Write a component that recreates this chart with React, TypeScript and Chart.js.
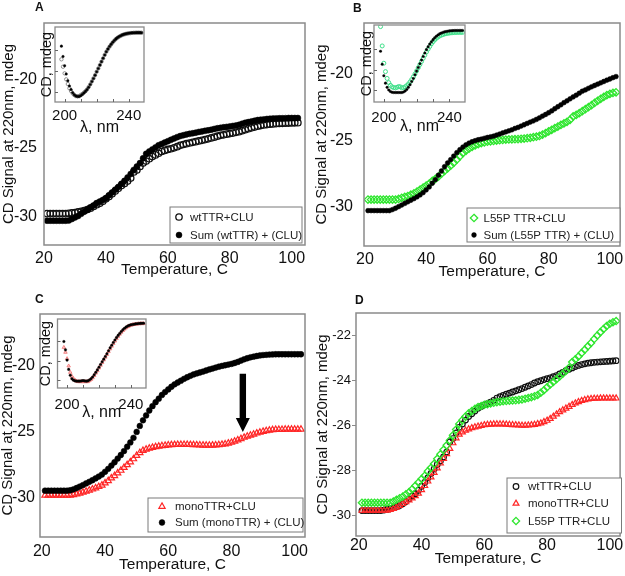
import React, { useEffect, useRef } from "react";
import { Chart, registerables } from "chart.js";

Chart.register(...registerables);

const FONT = "'Liberation Sans', Arial, Helvetica, sans-serif";
Chart.defaults.font.family = FONT;

// ---------- DATA ----------
const temps = [
  21, 22, 23, 24, 25, 26, 27, 28, 29, 30,
  31, 32, 33, 34, 35, 36, 37, 38, 39, 40,
  41, 42, 43, 44, 45, 46, 47, 48, 49, 50,
  51, 52, 53, 54, 55, 56, 57, 58, 59, 60,
  61, 62, 63, 64, 65, 66, 67, 68, 69, 70,
  71, 72, 73, 74, 75, 76, 77, 78, 79, 80,
  81, 82, 83, 84, 85, 86, 87, 88, 89, 90,
  91, 92, 93, 94, 95, 96, 97, 98, 99, 100,
  101, 102,
];

const wtCLU = [
  -29.8, -29.8, -29.8, -29.8, -29.8, -29.8, -29.8, -29.78, -29.75, -29.72,
  -29.68, -29.63, -29.58, -29.5, -29.4, -29.28, -29.15, -29.05, -28.9, -28.72,
  -28.55, -28.35, -28.15, -27.95, -27.75, -27.6, -27.42, -27.2, -26.75, -26.6,
  -26.35, -26.1, -25.95, -25.78, -25.62, -25.5, -25.38, -25.25, -25.17, -25.1,
  -25.05, -24.98, -24.9, -24.8, -24.74, -24.68, -24.63, -24.58, -24.53, -24.48,
  -24.43, -24.38, -24.32, -24.26, -24.2, -24.13, -24.07, -24.03, -23.98, -23.94,
  -23.9, -23.85, -23.8, -23.73, -23.66, -23.58, -23.52, -23.46, -23.4, -23.35,
  -23.31, -23.28, -23.25, -23.23, -23.21, -23.2, -23.19, -23.18, -23.17, -23.16,
  -23.15, -23.14,
];

const wtSum = [
  -30.32, -30.32, -30.32, -30.32, -30.32, -30.32, -30.32, -30.3, -30.2, -30.08,
  -29.98, -29.82, -29.66, -29.52, -29.36, -29.2, -29.03, -28.92, -28.8, -28.68,
  -28.45, -28.25, -28.05, -27.85, -27.62, -27.4, -27.15, -26.9, -26.6, -26.35,
  -26.1, -25.75, -25.42, -25.25, -25.1, -24.95, -24.8, -24.7, -24.6, -24.5,
  -24.4, -24.3, -24.2, -24.12, -24.06, -24.0, -23.96, -23.92, -23.87, -23.82,
  -23.78, -23.74, -23.7, -23.66, -23.6, -23.55, -23.52, -23.48, -23.45, -23.42,
  -23.38, -23.35, -23.3, -23.22, -23.15, -23.1, -23.05, -23.0, -22.95, -22.92,
  -22.9, -22.87, -22.85, -22.84, -22.83, -22.82, -22.82, -22.81, -22.8, -22.8,
  -22.8, -22.8,
];

const l55pCLU = [
  -29.45, -29.45, -29.45, -29.45, -29.45, -29.45, -29.45, -29.45, -29.45, -29.45,
  -29.4, -29.32, -29.25, -29.18, -29.08, -28.98, -28.85, -28.7, -28.55, -28.4,
  -28.25, -28.05, -27.9, -27.72, -27.5, -27.3, -27.1, -26.9, -26.68, -26.45,
  -26.2, -25.95, -25.78, -25.62, -25.48, -25.38, -25.28, -25.2, -25.15, -25.1,
  -25.07, -25.04, -25.01, -24.98, -24.96, -24.94, -24.93, -24.92, -24.91, -24.9,
  -24.88, -24.86, -24.83, -24.8, -24.76, -24.72, -24.66, -24.56, -24.45, -24.32,
  -24.2, -24.08, -23.96, -23.84, -23.72, -23.6, -23.45, -23.2, -23.08, -22.95,
  -22.8, -22.65, -22.5, -22.35, -22.18, -22.02, -21.87, -21.73, -21.6, -21.5,
  -21.43, -21.38,
];

const l55pSum = [
  -30.28, -30.28, -30.28, -30.28, -30.28, -30.28, -30.28, -30.28, -30.2, -30.1,
  -29.98, -29.86, -29.74, -29.62, -29.5, -29.38, -29.25, -29.1, -28.93, -28.72,
  -28.5, -28.22, -27.95, -27.62, -27.3, -26.98, -26.7, -26.45, -26.18, -25.92,
  -25.7, -25.5, -25.33, -25.2, -25.1, -25.02, -24.95, -24.9, -24.84, -24.78,
  -24.73, -24.68, -24.6, -24.52, -24.44, -24.36, -24.28, -24.2, -24.1, -24.02,
  -23.92, -23.82, -23.72, -23.62, -23.53, -23.42, -23.3, -23.17, -23.05, -22.92,
  -22.78, -22.62, -22.47, -22.32, -22.16, -22.02, -21.87, -21.73, -21.6, -21.45,
  -21.3, -21.2, -21.08, -20.97, -20.87, -20.77, -20.67, -20.57, -20.47, -20.38,
  -20.28, -20.2,
];

const monoCLU = [
  -29.8, -29.8, -29.8, -29.8, -29.8, -29.8, -29.8, -29.8, -29.8, -29.76,
  -29.72, -29.66, -29.58, -29.5, -29.42, -29.34, -29.25, -29.15, -29.04, -28.88,
  -28.7, -28.5, -28.32, -28.12, -27.92, -27.7, -27.5, -27.28, -27.05, -26.8,
  -26.58, -26.42, -26.32, -26.24, -26.18, -26.13, -26.09, -26.06, -26.03, -26.0,
  -25.98, -25.97, -25.96, -25.96, -25.96, -25.96, -25.97, -25.98, -25.99, -26.0,
  -26.01, -26.02, -26.02, -26.01, -26.0, -25.98, -25.95, -25.92, -25.86, -25.8,
  -25.72, -25.62, -25.52, -25.42, -25.34, -25.26, -25.18, -25.1, -25.03, -24.97,
  -24.92, -24.88, -24.85, -24.83, -24.82, -24.82, -24.81, -24.81, -24.81, -24.81,
  -24.81, -24.81,
];

const monoSum = [
  -29.45, -29.45, -29.45, -29.45, -29.45, -29.45, -29.45, -29.45, -29.42, -29.35,
  -29.25, -29.14, -29.03, -28.9, -28.78, -28.66, -28.52, -28.38, -28.23, -28.02,
  -27.8, -27.55, -27.3, -27.02, -26.75, -26.45, -26.12, -25.8, -25.45, -25.0,
  -24.55, -24.12, -23.75, -23.38, -23.05, -22.75, -22.48, -22.2, -21.98, -21.78,
  -21.58, -21.4, -21.26, -21.12, -20.98, -20.86, -20.75, -20.65, -20.57, -20.5,
  -20.43, -20.35, -20.27, -20.2, -20.13, -20.06, -20.0, -19.95, -19.9, -19.85,
  -19.78, -19.7, -19.6, -19.5, -19.42, -19.35, -19.3, -19.25, -19.21, -19.18,
  -19.16, -19.14, -19.13, -19.12, -19.12, -19.12, -19.12, -19.12, -19.12, -19.12,
  -19.12, -19.12,
];

// inset spectra (wavelength, nm)
const wavelengths = [
  198, 199, 200, 201, 202, 203, 204, 205, 206, 207,
  208, 209, 210, 211, 212, 213, 214, 215, 216, 217,
  218, 219, 220, 221, 222, 223, 224, 225, 226, 227,
  228, 229, 230, 231, 232, 233, 234, 235, 236, 237,
  238, 239, 240, 241, 242, 243, 244, 245, 246, 247,
  248,
];

const specWtCLU = [
  -5.75, -7.18, -8.46, -9.62, -10.52, -11.36, -11.88, -12.33, -12.65, -12.85,
  -12.9, -12.85, -12.65, -12.45, -12.2, -11.9, -11.55, -11.1, -10.58, -10.0,
  -9.42, -8.8, -8.14, -7.5, -6.85, -6.2, -5.56, -4.9, -4.28, -3.78,
  -3.31, -2.88, -2.47, -2.13, -1.82, -1.58, -1.38, -1.2, -1.05, -0.94,
  -0.85, -0.78, -0.72, -0.68, -0.65, -0.63, -0.61, -0.6, -0.6, -0.6,
  -0.62,
];
const specWtSum = [
  -3.2, -5.2, -7.0, -8.6, -9.9, -10.9, -11.6, -12.2, -12.6, -12.85,
  -12.95, -12.95, -12.8, -12.55, -12.25, -11.95, -11.6, -11.15, -10.62, -10.05,
  -9.45, -8.82, -8.16, -7.52, -6.86, -6.2, -5.55, -4.9, -4.28, -3.76,
  -3.28, -2.85, -2.44, -2.1, -1.8, -1.55, -1.35, -1.18, -1.03, -0.92,
  -0.83, -0.76, -0.7, -0.66, -0.63, -0.61, -0.6, -0.59, -0.59, -0.59,
  -0.6,
];
const specL55pCLU = [
  0.2, -3.5, -6.8, -8.4, -9.7, -10.5, -11.0, -11.3, -11.45, -11.5,
  -11.4, -11.25, -11.3, -11.5, -11.45, -11.3, -11.05, -10.75, -10.35, -9.9,
  -9.4, -8.85, -8.25, -7.65, -7.05, -6.45, -5.85, -5.25, -4.65, -4.1,
  -3.6, -3.1, -2.7, -2.35, -2.05, -1.8, -1.6, -1.45, -1.32, -1.22,
  -1.14, -1.08, -1.03, -0.99, -0.96, -0.94, -0.92, -0.91, -0.9, -0.9,
  -0.9,
];
const specL55pSum = [
  -4.5, -7.0, -9.2, -10.6, -11.4, -11.9, -12.2, -12.35, -12.4, -12.4,
  -12.4, -12.4, -12.4, -12.4, -12.3, -12.1, -11.8, -11.4, -10.9, -10.3,
  -9.7, -9.0, -8.3, -7.6, -6.9, -6.2, -5.5, -4.85, -4.2, -3.65,
  -3.15, -2.7, -2.3, -1.95, -1.65, -1.4, -1.2, -1.05, -0.92, -0.82,
  -0.74, -0.68, -0.63, -0.6, -0.58, -0.56, -0.55, -0.54, -0.54, -0.54,
  -0.55,
];
const specMonoCLU = [
  -5.3, -6.3, -7.6, -9.1, -10.4, -11.2, -11.7, -12.0, -12.2, -12.3,
  -12.3, -12.3, -12.3, -12.3, -12.3, -12.3, -12.1, -11.85, -11.5, -11.05,
  -10.55, -10.05, -9.5, -8.95, -8.4, -7.85, -7.3, -6.75, -6.15, -5.6,
  -5.05, -4.5, -4.0, -3.5, -3.05, -2.6, -2.2, -1.85, -1.55, -1.28,
  -1.06, -0.9, -0.77, -0.67, -0.6, -0.54, -0.5, -0.47, -0.45, -0.44,
  -0.44,
];
const specMonoSum = [
  -4.1, -5.8, -7.9, -9.8, -11.0, -11.7, -12.0, -12.15, -12.2, -12.2,
  -12.2, -12.15, -12.1, -12.15, -12.2, -12.15, -11.95, -11.7, -11.35, -10.9,
  -10.4, -9.9, -9.35, -8.8, -8.25, -7.7, -7.15, -6.6, -6.0, -5.4,
  -4.85, -4.3, -3.8, -3.3, -2.85, -2.45, -2.05, -1.7, -1.4, -1.15,
  -0.95, -0.8, -0.7, -0.62, -0.56, -0.5, -0.46, -0.42, -0.4, -0.38,
  -0.38,
];

const tempTicks = [20, 40, 60, 80, 100];
const signalTicks = [-30, -25, -20];
const signalTicksD = [-30, -28, -26, -24, -22];
const waveTicks = [200, 240];
const waveMinorTicks = [200, 210, 220, 230, 240];
const specMinorTicks = [-12, -8, -4];

const labelsA = ["wtTTR+CLU", "Sum (wtTTR) + (CLU)"];
const labelsB = ["L55P TTR+CLU", "Sum (L55P TTR) + (CLU)"];
const labelsC = ["monoTTR+CLU", "Sum (monoTTR) + (CLU)"];
const labelsD = ["wtTTR+CLU", "monoTTR+CLU", "L55P TTR+CLU"];

// arrow annotation in panel C (temperature, from signal, to signal)
const arrowC = { temp: 83.6, from: -20.6, to: -25.0 };

// ---------- STYLES ----------
type Marker = { style: string; radius: number; fill: string; stroke: string; lw: number };
const GREEN = "#2ee62e";
const RED = "#ff2626";
const mOpenBlack: Marker = { style: "circle", radius: 3.2, fill: "rgba(255,255,255,0)", stroke: "#111", lw: 1.3 };
const mOpenBlackD: Marker = { style: "circle", radius: 2.8, fill: "rgba(255,255,255,0)", stroke: "#111", lw: 1.2 };
const mDotA: Marker = { style: "circle", radius: 3.0, fill: "#000", stroke: "#000", lw: 0.5 };
const mDotB: Marker = { style: "circle", radius: 2.4, fill: "#000", stroke: "#000", lw: 0.5 };
const mDotC: Marker = { style: "circle", radius: 2.9, fill: "#000", stroke: "#000", lw: 0.5 };
const mGreen: Marker = { style: "rectRot", radius: 3.7, fill: "rgba(255,255,255,0)", stroke: GREEN, lw: 1.3 };
const mGreenD: Marker = { style: "rectRot", radius: 3.6, fill: "rgba(255,255,255,0)", stroke: GREEN, lw: 1.3 };
const mRed: Marker = { style: "triangle", radius: 3.6, fill: "rgba(255,255,255,0)", stroke: RED, lw: 1.2 };
const mRedD: Marker = { style: "triangle", radius: 3.4, fill: "rgba(255,255,255,0)", stroke: RED, lw: 1.2 };
const mSpecOpen: Marker = { style: "circle", radius: 1.7, fill: "rgba(255,255,255,0)", stroke: "#777", lw: 0.8 };
const mSpecDot: Marker = { style: "circle", radius: 1.3, fill: "#000", stroke: "#000", lw: 0.3 };
const mSpecGreen: Marker = { style: "circle", radius: 2.0, fill: "rgba(255,255,255,0)", stroke: "#3fe08a", lw: 1.0 };
const mSpecRed: Marker = { style: "triangle", radius: 2.0, fill: "rgba(255,170,170,0.6)", stroke: "#f07070", lw: 0.8 };

function dataset(label: string, xs: number[], ys: number[], m: Marker, order: number) {
  return {
    label,
    data: xs.map((x, i) => ({ x, y: ys[i] })),
    showLine: false,
    pointStyle: m.style,
    pointRadius: m.radius,
    pointHoverRadius: m.radius,
    pointBackgroundColor: m.fill,
    pointBorderColor: m.stroke,
    pointBorderWidth: m.lw,
    order,
  };
}

function drawMarker(ctx: CanvasRenderingContext2D, m: Marker, x: number, y: number) {
  ctx.save();
  ctx.beginPath();
  const r = m.radius;
  if (m.style === "circle") {
    ctx.arc(x, y, r, 0, Math.PI * 2);
  } else if (m.style === "triangle") {
    for (let k = 0; k < 3; k++) {
      const a = (k * 2 * Math.PI) / 3;
      const px = x + Math.sin(a) * r;
      const py = y - Math.cos(a) * r;
      if (k === 0) ctx.moveTo(px, py);
      else ctx.lineTo(px, py);
    }
  } else {
    ctx.moveTo(x, y - r);
    ctx.lineTo(x + r, y);
    ctx.lineTo(x, y + r);
    ctx.lineTo(x - r, y);
  }
  ctx.closePath();
  ctx.fillStyle = m.fill;
  ctx.fill();
  ctx.strokeStyle = m.stroke;
  ctx.lineWidth = m.lw;
  ctx.stroke();
  ctx.restore();
}

// ---------- LAYOUT TYPES ----------
type Rect = { l: number; t: number; w: number; h: number };
type Area = { l: number; r: number; t: number; b: number };
type LegendRow = { y: number; label: string; marker: Marker };
type LegendCfg = { box: Area; symbolX: number; textX: number; rows: LegendRow[] };

type PanelCfg = {
  canvas: Rect;
  area: Area;
  yTitleX: number;
  xTitleY: number;
  xPad: number;
  yPad: number;
  yFont: number;
  yTickLen: number;
  xMin: number;
  xMax: number;
  yMin: number;
  yMax: number;
  yTicks: number[];
  datasets: any[];
  legend: LegendCfg;
  arrow?: { temp: number; from: number; to: number };
};

const Y_TITLE = 15;
const X_TITLE = 15.5;

function mainConfig(p: PanelCfg) {
  const c = p.canvas;
  const yAxisLeft = p.yTitleX - Y_TITLE / 2;
  const yAxisWidth = p.area.l - yAxisLeft;
  const xAxisBottom = p.xTitleY + X_TITLE / 2;
  const xAxisHeight = xAxisBottom - p.area.b;
  const frame = {
    id: "frame",
    afterDatasetsDraw(chart: any) {
      const { ctx, chartArea: a } = chart;
      ctx.save();
      ctx.strokeStyle = "#8a8a8a";
      ctx.lineWidth = 1.5;
      ctx.strokeRect(a.left, a.top, a.right - a.left, a.bottom - a.top);
      ctx.restore();
    },
  };
  const arrow = {
    id: "arrow",
    afterDatasetsDraw(chart: any) {
      if (!p.arrow) return;
      const { ctx } = chart;
      const x = chart.scales.x.getPixelForValue(p.arrow.temp);
      const y0 = chart.scales.y.getPixelForValue(p.arrow.from);
      const y1 = chart.scales.y.getPixelForValue(p.arrow.to);
      const hw = 3.2, headW = 7, headL = 14;
      ctx.save();
      ctx.beginPath();
      ctx.moveTo(x - hw, y0);
      ctx.lineTo(x + hw, y0);
      ctx.lineTo(x + hw, y1 - headL);
      ctx.lineTo(x + headW, y1 - headL);
      ctx.lineTo(x, y1);
      ctx.lineTo(x - headW, y1 - headL);
      ctx.lineTo(x - hw, y1 - headL);
      ctx.closePath();
      ctx.fillStyle = "#000";
      ctx.fill();
      ctx.restore();
    },
  };
  const legend = {
    id: "boxLegend",
    afterDraw(chart: any) {
      const { ctx } = chart;
      const L = p.legend;
      const ox = c.l, oy = c.t;
      ctx.save();
      ctx.fillStyle = "#fff";
      ctx.fillRect(L.box.l - ox, L.box.t - oy, L.box.r - L.box.l, L.box.b - L.box.t);
      ctx.strokeStyle = "#7a7a7a";
      ctx.lineWidth = 1;
      ctx.strokeRect(L.box.l - ox, L.box.t - oy, L.box.r - L.box.l, L.box.b - L.box.t);
      ctx.font = `11.5px ${FONT}`;
      ctx.textBaseline = "middle";
      ctx.textAlign = "left";
      for (const row of L.rows) {
        drawMarker(ctx, row.marker, L.symbolX - ox, row.y - oy);
        ctx.fillStyle = "#222";
        ctx.fillText(row.label, L.textX - ox, row.y - oy + 0.5);
      }
      ctx.restore();
    },
  };
  return {
    type: "scatter",
    data: { datasets: p.datasets },
    options: {
      responsive: false,
      animation: false,
      events: [],
      layout: {
        padding: {
          left: yAxisLeft - c.l,
          top: p.area.t - c.t,
          right: c.l + c.w - p.area.r,
          bottom: c.t + c.h - xAxisBottom,
        },
      },
      plugins: { legend: { display: false }, tooltip: { enabled: false } },
      scales: {
        x: {
          type: "linear",
          min: p.xMin,
          max: p.xMax,
          grid: { display: false, drawTicks: false },
          border: { display: false },
          ticks: { padding: p.xPad, color: "#111", font: { size: 16, lineHeight: 1 }, maxRotation: 0, autoSkip: false },
          title: { display: true, text: "Temperature, C", color: "#111", font: { size: X_TITLE, lineHeight: 1 }, padding: 0 },
          afterBuildTicks: (s: any) => {
            s.ticks = tempTicks.map((v) => ({ value: v }));
          },
          afterFit: (s: any) => {
            s.height = xAxisHeight;
            s.paddingLeft = 0;
            s.paddingRight = 0;
          },
        },
        y: {
          type: "linear",
          min: p.yMin,
          max: p.yMax,
          grid: p.yTickLen > 0
            ? { display: true, drawOnChartArea: false, drawTicks: true, tickLength: p.yTickLen, color: "#8a8a8a", lineWidth: 1 }
            : { display: false, drawTicks: false },
          border: { display: false },
          ticks: { padding: p.yPad, color: "#111", font: { size: p.yFont, lineHeight: 1 }, autoSkip: false },
          title: { display: true, text: "CD Signal at 220nm, mdeg", color: "#111", font: { size: Y_TITLE, lineHeight: 1 }, padding: 0 },
          afterBuildTicks: (s: any) => {
            s.ticks = p.yTicks.map((v) => ({ value: v }));
          },
          afterFit: (s: any) => {
            s.width = yAxisWidth;
            s.paddingTop = 0;
            s.paddingBottom = 0;
          },
        },
      },
    },
    plugins: [frame, arrow, legend],
  };
}

type InsetCfg = {
  canvas: Rect;
  area: Area;
  yTitleX: number;
  xLabelY: number;
  xTitleY: number;
  yMin: number;
  datasets: any[];
};

const INSET_LABEL = 15;
const INSET_XTITLE = 16;
const INSET_YTITLE = 14.5;

function insetConfig(p: InsetCfg) {
  const c = p.canvas;
  const yAxisLeft = p.yTitleX - INSET_YTITLE / 2;
  const yAxisWidth = p.area.l - yAxisLeft;
  const xAxisBottom = p.xTitleY + INSET_XTITLE / 2;
  const xAxisHeight = xAxisBottom - p.area.b;
  const xPad = p.xLabelY - p.area.b - INSET_LABEL / 2;
  const frame = {
    id: "insetFrame",
    beforeDatasetsDraw(chart: any) {
      const { ctx, chartArea: a } = chart;
      ctx.save();
      ctx.fillStyle = "#fff";
      ctx.fillRect(a.left, a.top, a.right - a.left, a.bottom - a.top);
      ctx.restore();
    },
    afterDatasetsDraw(chart: any) {
      const { ctx, chartArea: a } = chart;
      ctx.save();
      ctx.strokeStyle = "#8a8a8a";
      ctx.lineWidth = 1.3;
      ctx.strokeRect(a.left, a.top, a.right - a.left, a.bottom - a.top);
      ctx.strokeStyle = "#666";
      ctx.lineWidth = 1;
      ctx.beginPath();
      for (const v of waveMinorTicks) {
        const x = Math.round(chart.scales.x.getPixelForValue(v)) + 0.5;
        ctx.moveTo(x, a.bottom);
        ctx.lineTo(x, a.bottom - 3);
      }
      for (const v of specMinorTicks) {
        const y = Math.round(chart.scales.y.getPixelForValue(v)) + 0.5;
        ctx.moveTo(a.left, y);
        ctx.lineTo(a.left + 3, y);
      }
      ctx.stroke();
      ctx.restore();
    },
  };
  return {
    type: "scatter",
    data: { datasets: p.datasets },
    options: {
      responsive: false,
      animation: false,
      events: [],
      layout: {
        padding: {
          left: yAxisLeft - c.l,
          top: p.area.t - c.t,
          right: c.l + c.w - p.area.r,
          bottom: c.t + c.h - xAxisBottom,
        },
      },
      plugins: { legend: { display: false }, tooltip: { enabled: false } },
      scales: {
        x: {
          type: "linear",
          min: 194,
          max: 249.5,
          grid: { display: false, drawTicks: false },
          border: { display: false },
          ticks: { padding: xPad, color: "#111", font: { size: INSET_LABEL, lineHeight: 1 }, maxRotation: 0, autoSkip: false },
          title: { display: true, text: "λ, nm", color: "#111", font: { size: INSET_XTITLE, lineHeight: 1 }, padding: 0 },
          afterBuildTicks: (s: any) => {
            s.ticks = waveTicks.map((v) => ({ value: v }));
          },
          afterFit: (s: any) => {
            s.height = xAxisHeight;
            s.paddingLeft = 0;
            s.paddingRight = 0;
          },
        },
        y: {
          type: "linear",
          min: p.yMin,
          max: 0.5,
          grid: { display: false, drawTicks: false },
          border: { display: false },
          ticks: { display: false },
          title: { display: true, text: "CD, mdeg", color: "#111", font: { size: INSET_YTITLE, lineHeight: 1 }, padding: 0 },
          afterFit: (s: any) => {
            s.width = yAxisWidth;
            s.paddingTop = 0;
            s.paddingBottom = 0;
          },
        },
      },
    },
    plugins: [frame],
  };
}

// ---------- PANELS ----------
const panelA: PanelCfg = {
  canvas: { l: 0, t: 10, w: 312, h: 275 },
  area: { l: 44, r: 305, t: 23, b: 245 },
  yTitleX: 8.5,
  xTitleY: 269.5,
  xPad: 5.5,
  yPad: 7,
  yFont: 16,
  yTickLen: 0,
  xMin: 20.0,
  xMax: 104.3,
  yMin: -32.1,
  yMax: -15.84,
  yTicks: signalTicks,
  datasets: [
    dataset(labelsA[1], temps, wtSum, mDotA, 1),
    dataset(labelsA[0], temps, wtCLU, mOpenBlack, 2),
  ],
  legend: {
    box: { l: 170, t: 207, r: 302, b: 243 },
    symbolX: 179,
    textX: 190,
    rows: [
      { y: 217, label: labelsA[0], marker: mOpenBlack },
      { y: 235, label: labelsA[1], marker: mDotA },
    ],
  },
};

const panelB: PanelCfg = {
  canvas: { l: 312, t: 10, w: 313, h: 275 },
  area: { l: 364, r: 622, t: 23, b: 246 },
  yTitleX: 322,
  xTitleY: 272,
  xPad: 6,
  yPad: 11,
  yFont: 16,
  yTickLen: 0,
  xMin: 19.7,
  xMax: 103.3,
  yMin: -32.94,
  yMax: -16.17,
  yTicks: signalTicks,
  datasets: [
    dataset(labelsB[1], temps, l55pSum, mDotB, 1),
    dataset(labelsB[0], temps, l55pCLU, mGreen, 2),
  ],
  legend: {
    box: { l: 467, t: 208, r: 620, b: 242 },
    symbolX: 474,
    textX: 483.5,
    rows: [
      { y: 218, label: labelsB[0], marker: mGreen },
      { y: 235, label: labelsB[1], marker: mDotB },
    ],
  },
};

const panelC: PanelCfg = {
  canvas: { l: 0, t: 300, w: 312, h: 276 },
  area: { l: 40, r: 305, t: 314, b: 537 },
  yTitleX: 7.5,
  xTitleY: 564.3,
  xPad: 6.7,
  yPad: 5,
  yFont: 16,
  yTickLen: 0,
  xMin: 19.42,
  xMax: 103.27,
  yMin: -32.96,
  yMax: -16.07,
  yTicks: signalTicks,
  datasets: [
    dataset(labelsC[1], temps, monoSum, mDotC, 1),
    dataset(labelsC[0], temps, monoCLU, mRed, 2),
  ],
  legend: {
    box: { l: 148, t: 498, r: 303, b: 532 },
    symbolX: 162,
    textX: 175,
    rows: [
      { y: 506.5, label: labelsC[0], marker: mRed },
      { y: 522.5, label: labelsC[1], marker: mDotC },
    ],
  },
  arrow: arrowC,
};

const panelD: PanelCfg = {
  canvas: { l: 312, t: 300, w: 313, h: 276 },
  area: { l: 356, r: 622, t: 313, b: 536 },
  yTitleX: 322.5,
  xTitleY: 558.8,
  xPad: 2,
  yPad: 1,
  yFont: 13,
  yTickLen: 4,
  xMin: 19.1,
  xMax: 103.27,
  yMin: -30.93,
  yMax: -21.02,
  yTicks: signalTicksD,
  datasets: [
    dataset(labelsD[2], temps, l55pCLU, mGreenD, 1),
    dataset(labelsD[1], temps, monoCLU, mRedD, 2),
    dataset(labelsD[0], temps, wtCLU, mOpenBlackD, 3),
  ],
  legend: {
    box: { l: 507, t: 478, r: 621.5, b: 533 },
    symbolX: 516,
    textX: 528,
    rows: [
      { y: 486.5, label: labelsD[0], marker: mOpenBlackD },
      { y: 503.5, label: labelsD[1], marker: mRedD },
      { y: 521, label: labelsD[2], marker: mGreenD },
    ],
  },
};

const insetA: InsetCfg = {
  canvas: { l: 30, t: 18, w: 130, h: 125 },
  area: { l: 55, r: 144, t: 27, b: 102 },
  yTitleX: 46.7,
  xLabelY: 116.3,
  xTitleY: 127.5,
  yMin: -14.0,
  datasets: [
    dataset("Sum", wavelengths, specWtSum, mSpecDot, 1),
    dataset("wtTTR+CLU", wavelengths, specWtCLU, mSpecOpen, 2),
  ],
};

const insetB: InsetCfg = {
  canvas: { l: 350, t: 16, w: 130, h: 128 },
  area: { l: 374, r: 465, t: 25, b: 102 },
  yTitleX: 367,
  xLabelY: 118,
  xTitleY: 127,
  yMin: -14.2,
  datasets: [
    dataset("Sum", wavelengths, specL55pSum, mSpecDot, 1),
    dataset("L55P TTR+CLU", wavelengths, specL55pCLU, mSpecGreen, 2),
  ],
};

const insetC: InsetCfg = {
  canvas: { l: 30, t: 308, w: 130, h: 122 },
  area: { l: 57.5, r: 146, t: 319, b: 388 },
  yTitleX: 45.5,
  xLabelY: 405,
  xTitleY: 413,
  yMin: -13.6,
  datasets: [
    dataset("Sum", wavelengths, specMonoSum, mSpecDot, 1),
    dataset("monoTTR+CLU", wavelengths, specMonoCLU, mSpecRed, 2),
  ],
};

// ---------- COMPONENTS ----------
function ChartBox({ rect, build }: { rect: Rect; build: () => any }) {
  const ref = useRef<HTMLCanvasElement>(null);
  useEffect(() => {
    const chart = new Chart(ref.current as HTMLCanvasElement, build());
    return () => chart.destroy();
  }, []);
  return (
    <div style={{ position: "absolute", left: rect.l, top: rect.t, width: rect.w, height: rect.h }}>
      <canvas ref={ref} width={rect.w} height={rect.h} style={{ width: rect.w, height: rect.h, display: "block" }} />
    </div>
  );
}

const letterStyle = (l: number, t: number): React.CSSProperties => ({
  position: "absolute",
  left: l,
  top: t,
  fontFamily: FONT,
  fontWeight: "bold",
  fontSize: 12,
  lineHeight: "12px",
  color: "#111",
});

export default function App() {
  return (
    <div style={{ position: "absolute", left: 0, top: 0, width: 625, height: 576, background: "#fff", overflow: "hidden" }}>
      <ChartBox rect={panelA.canvas} build={() => mainConfig(panelA)} />
      <ChartBox rect={panelB.canvas} build={() => mainConfig(panelB)} />
      <ChartBox rect={panelC.canvas} build={() => mainConfig(panelC)} />
      <ChartBox rect={panelD.canvas} build={() => mainConfig(panelD)} />
      <ChartBox rect={insetA.canvas} build={() => insetConfig(insetA)} />
      <ChartBox rect={insetB.canvas} build={() => insetConfig(insetB)} />
      <ChartBox rect={insetC.canvas} build={() => insetConfig(insetC)} />
      <div style={letterStyle(35, 1)}>A</div>
      <div style={letterStyle(353, 2)}>B</div>
      <div style={letterStyle(35, 293)}>C</div>
      <div style={letterStyle(355, 294)}>D</div>
    </div>
  );
}
